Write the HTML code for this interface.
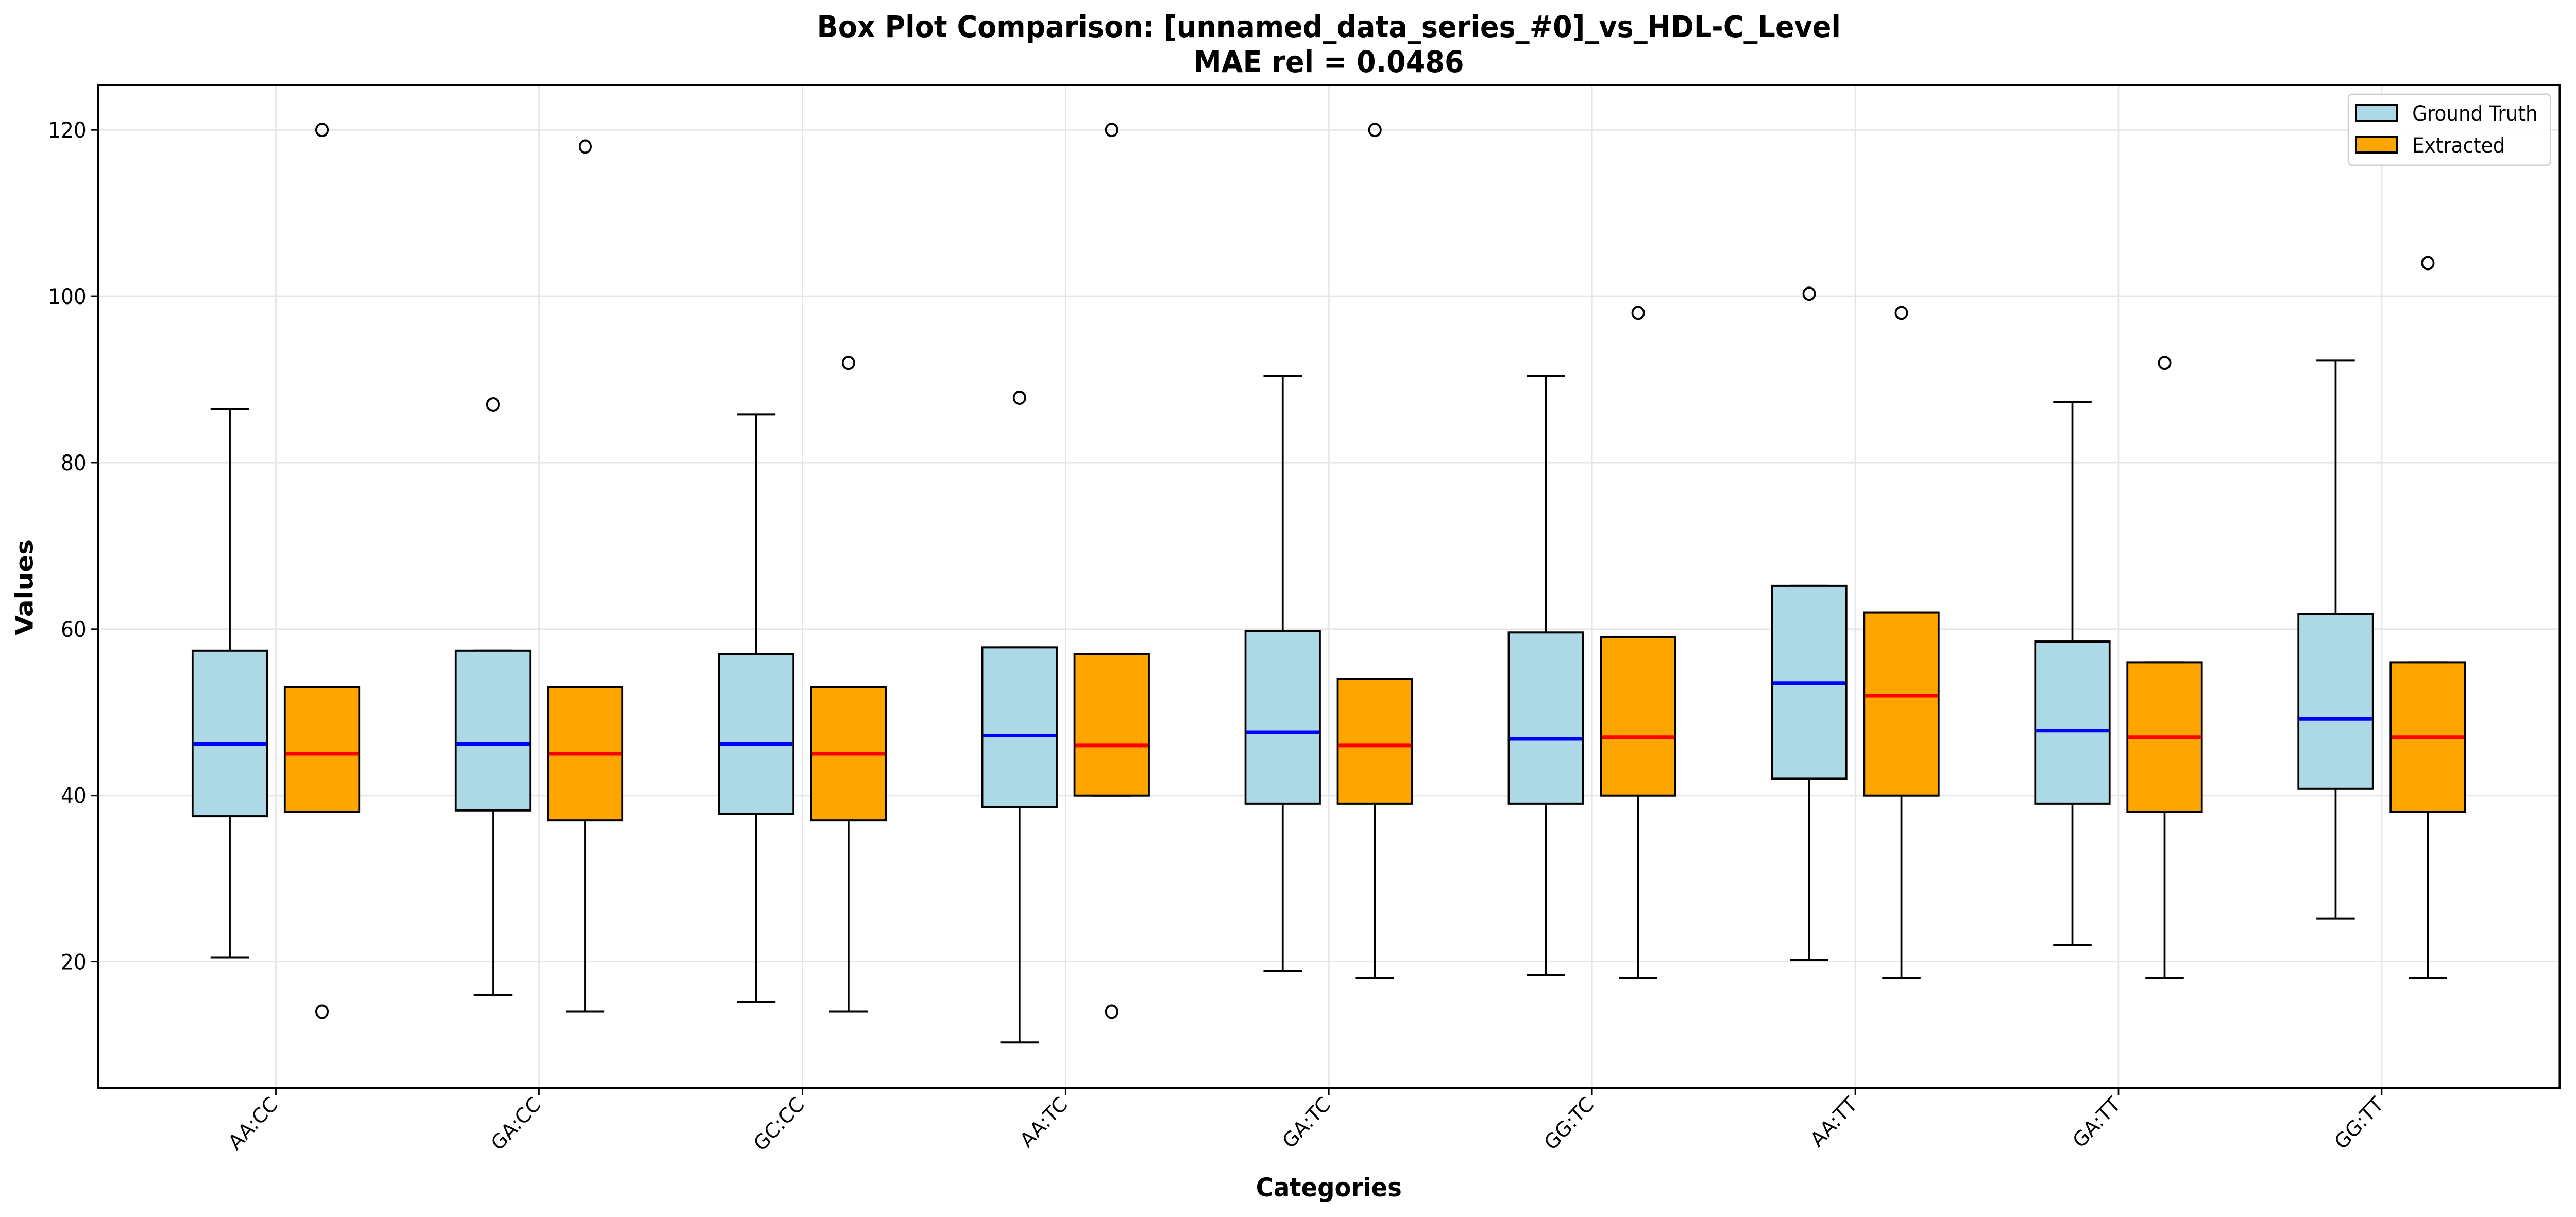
<!DOCTYPE html>
<html><head><meta charset="utf-8"><style>
html,body{margin:0;padding:0;background:#fff;overflow:hidden;width:100%;height:100%;}
svg{display:block;width:100vw;height:100vh;font-family:"DejaVu Sans","Liberation Sans",sans-serif;}
</style></head><body>
<svg id="chart" viewBox="0 0 5364 2362" preserveAspectRatio="none" xmlns="http://www.w3.org/2000/svg">
<rect width="5364" height="2362" fill="#fff"/>
<g id="grid"></g>
<g id="boxes"></g>
<rect x="204" y="165" width="5126" height="1947" fill="none" stroke="#000" stroke-width="4"/>
<g id="axes"></g>
<text x="2767" y="72" text-anchor="middle" font-size="58" font-weight="bold">Box Plot Comparison: [unnamed_data_series_#0]_vs_HDL-C_Level</text>
<text x="2767" y="140" text-anchor="middle" font-size="58" font-weight="bold">MAE rel = 0.0486</text>
<text x="2767" y="2322" text-anchor="middle" font-size="50" font-weight="bold">Categories</text>
<text transform="translate(68,1140) rotate(-90)" text-anchor="middle" font-size="50" font-weight="bold">Values</text>
<g>
<rect x="4890" y="183" width="421" height="138" rx="8" fill="#fff" fill-opacity="0.85" stroke="#d0d0d0" stroke-width="3"/>
<rect x="4906" y="204" width="85" height="30" fill="#add8e6" stroke="#000" stroke-width="4"/>
<text x="5023" y="234" font-size="40">Ground Truth</text>
<rect x="4906" y="266" width="85" height="30" fill="#ffa500" stroke="#000" stroke-width="4"/>
<text x="5023" y="296" font-size="40">Extracted</text>
</g>
</svg>
<script>
const categories = ["AA:CC","GA:CC","GC:CC","AA:TC","GA:TC","GG:TC","AA:TT","GA:TT","GG:TT"];
const gtWhisLo = [20.5,16,15.2,10.3,18.9,18.4,20.2,22,25.2];
const gtQ1 = [37.5,38.2,37.8,38.6,39,39,42,39,40.8];
const gtMed = [46.2,46.2,46.2,47.2,47.6,46.8,53.5,47.8,49.2];
const gtQ3 = [57.4,57.4,57,57.8,59.8,59.6,65.2,58.5,61.8];
const gtWhisHi = [86.5,57.4,85.8,57.8,90.4,90.4,65.2,87.3,92.3];
const gtFliers = [[],[87],[],[87.8],[],[],[100.3],[],[]];
const exWhisLo = [38,14,14,40,18,18,18,18,18];
const exQ1 = [38,37,37,40,39,40,40,38,38];
const exMed = [45,45,45,46,46,47,52,47,47];
const exQ3 = [53,53,53,57,54,59,62,56,56];
const exWhisHi = [53,53,53,57,54,59,62,56,56];
const exFliers = [[120,14],[118],[92],[120,14],[120],[98],[98],[92],[104]];
const yTicks = [20,40,60,80,100,120];

const NS="http://www.w3.org/2000/svg";
const X0=204,X1=5330,Y0=165,Y1=2112;
const xMin=0.324,xMax=9.676,yMin=4.8,yMax=125.4;
function xs(v){return X0+(v-xMin)/(xMax-xMin)*(X1-X0);}
function ys(v){return Y1-(v-yMin)/(yMax-yMin)*(Y1-Y0);}
function mk(tag,attrs,parent){const e=document.createElementNS(NS,tag);for(const k in attrs)e.setAttribute(k,attrs[k]);parent.appendChild(e);return e;}
const grid=document.getElementById('grid'),axes=document.getElementById('axes'),boxes=document.getElementById('boxes');
yTicks.forEach(t=>{
  const y=ys(t);
  const g=mk('line',{x1:X0,x2:X1,y1:y,y2:y,stroke:'#e6e6e6','stroke-width':3},grid);
  
  
  const tk=mk('line',{x1:X0-14,x2:X0,y1:y,y2:y,stroke:'#000','stroke-width':3},axes);
  
  
  const tx=mk('text',{x:X0-24,y:y+15,'text-anchor':'end','font-size':42},axes);
  tx.textContent=t;
  
  
});
categories.forEach((c,i)=>{
  const x=xs(i+1);
  const g=mk('line',{x1:x,x2:x,y1:Y0,y2:Y1,stroke:'#e6e6e6','stroke-width':3},grid);
  
  
  const tk=mk('line',{x1:x,x2:x,y1:Y1,y2:Y1+14,stroke:'#000','stroke-width':3},axes);
  
  
  const tx=mk('text',{transform:`translate(${x+6},${Y1+34}) rotate(-45)`,'text-anchor':'end','font-size':40},axes);
  tx.textContent=c;
  
  
});
const halfW=77.5, off=96;
function drawBox(cx,lo,q1,med,q3,hi,fl,fill,medColor,name){
  const g=mk('g',{},boxes);
  
  
  mk('line',{x1:cx,x2:cx,y1:ys(lo),y2:ys(q1),stroke:'#000','stroke-width':4},g);
  mk('line',{x1:cx,x2:cx,y1:ys(q3),y2:ys(hi),stroke:'#000','stroke-width':4},g);
  mk('line',{x1:cx-40,x2:cx+40,y1:ys(lo),y2:ys(lo),stroke:'#000','stroke-width':4},g);
  mk('line',{x1:cx-40,x2:cx+40,y1:ys(hi),y2:ys(hi),stroke:'#000','stroke-width':4},g);
  mk('rect',{x:cx-halfW,y:ys(q3),width:2*halfW,height:ys(q1)-ys(q3),fill:fill,stroke:'#000','stroke-width':4},g);
  mk('line',{x1:cx-halfW+2,x2:cx+halfW-2,y1:ys(med),y2:ys(med),stroke:medColor,'stroke-width':7},g);
  fl.forEach(v=>{
    const c=mk('circle',{cx:cx,cy:ys(v),r:12,fill:'none',stroke:'#000','stroke-width':4},g);
    
    
  });
}
categories.forEach((c,i)=>{
  const x=xs(i+1);
  drawBox(x-off,gtWhisLo[i],gtQ1[i],gtMed[i],gtQ3[i],gtWhisHi[i],gtFliers[i],'#add8e6','#0000ff','ground-truth-box');
  drawBox(x+off,exWhisLo[i],exQ1[i],exMed[i],exQ3[i],exWhisHi[i],exFliers[i],'#ffa500','#ff0000','extracted-box');
});
</script>
</body></html>
